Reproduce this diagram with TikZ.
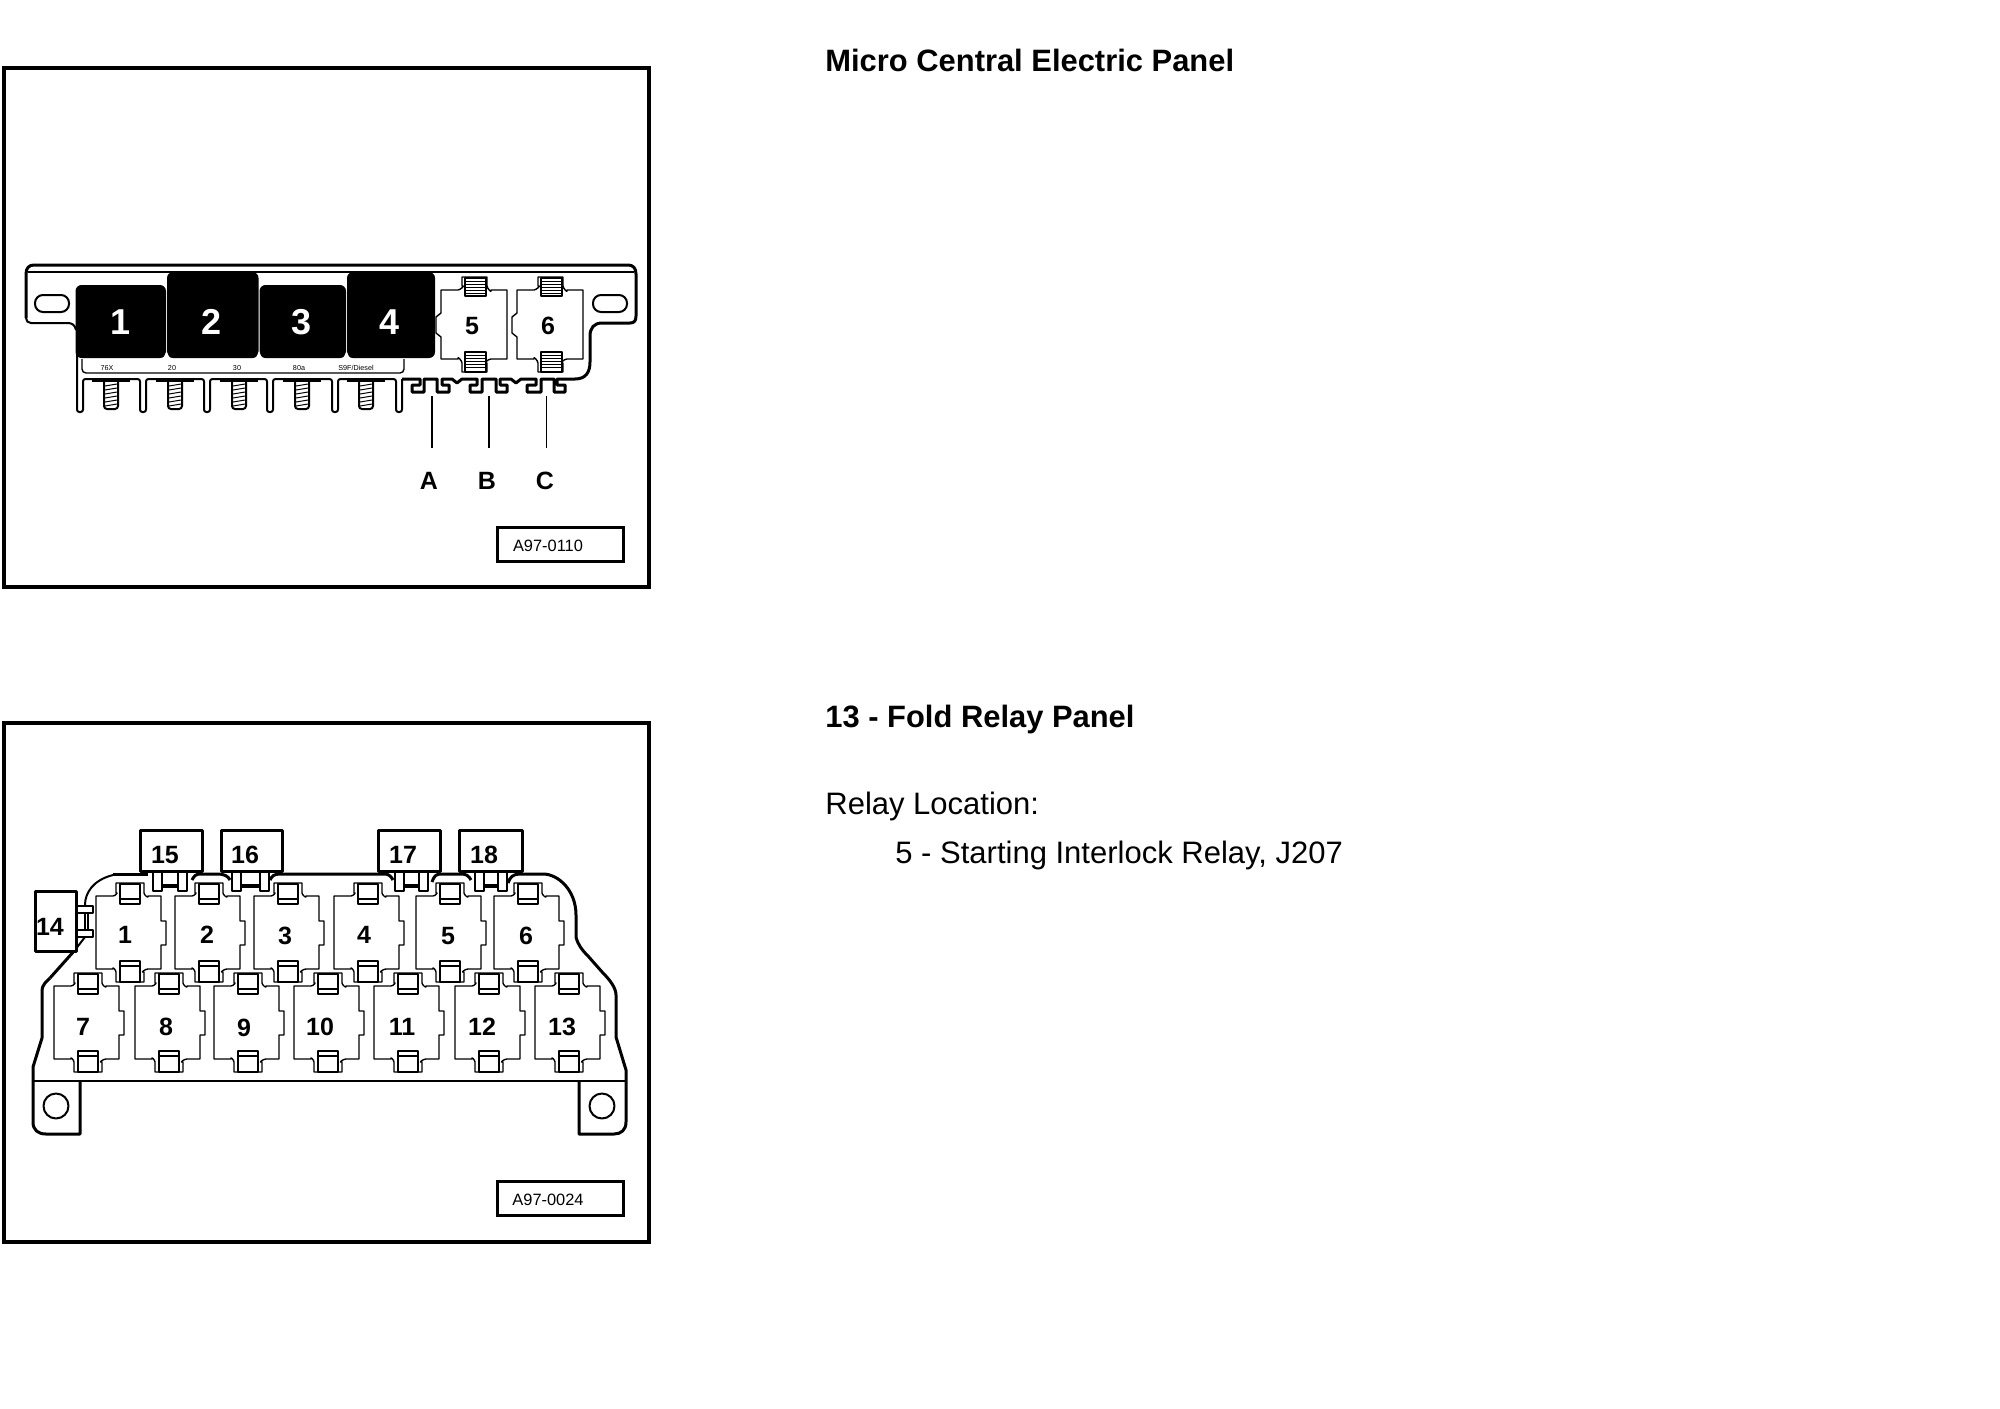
\documentclass[tikz,border=0pt]{standalone}
\usepackage{fontspec}
\setmainfont{Liberation Sans}
\usetikzlibrary{calc}
\tikzset{
 frameline/.style={draw=black,line width=2pt},
 heavy/.style={draw=black,line width=1.5pt,line join=round},
 medium/.style={draw=black,line width=1pt,line join=round},
 thin1/.style={draw=black,line width=0.7pt,line join=round},
 hair/.style={draw=black,line width=0.5pt},
 tagbox/.style={draw=black,line width=1.5pt,fill=white,minimum width=63pt,minimum height=17pt,inner sep=0pt,anchor=north west},
 tagtext/.style={font=\fontsize{8.2}{8}\selectfont,inner sep=0pt},
 head/.style={font=\bfseries\fontsize{15.45}{16}\selectfont,inner sep=0pt,anchor=base west},
 body/.style={font=\fontsize{15.5}{16}\selectfont,inner sep=0pt,anchor=base west},
 bignum/.style={font=\bfseries\fontsize{18}{18}\selectfont,text=white,inner sep=0pt},
 num/.style={font=\bfseries\fontsize{12.5}{12.5}\selectfont,inner sep=0pt},
 tiny1/.style={font=\fontsize{3.6}{4}\selectfont,inner sep=0pt},
 blackbox/.style={fill=black,rounded corners=3pt},
}
% relay socket: #1 left, #2 top, #3 number, #4 number x offset, #5 number y
\newcommand{\relaysock}[5]{%
 \draw[thin1,fill=white] (#1,#2) -- ++(17,0) .. controls +(2,0) and +(3,-1) .. ++(3,-3) -- ++(0,-10) -- ++(28,0) -- ++(0,10) .. controls +(0,2) and +(1,3) .. ++(4,3) -- ++(13,0) -- ++(0,25) -- ++(5,0) -- ++(0,24) -- ++(-5,0) -- ++(0,24) -- ++(-13,0) .. controls +(-3,0) and +(-4,1) .. ++(-4,3) -- ++(0,10) -- ++(-28,0) -- ++(0,-10) .. controls +(0,-2) and +(-1,-3) .. ++(-3,-3) -- ++(-17,0) -- cycle;
 \draw[medium] ($(#1,#2)+(24,-12)$) rectangle ++(20,20);
 \draw[medium] ($(#1,#2)+(24,3)$) -- ++(20,0);
 \draw[medium] ($(#1,#2)+(24,65)$) rectangle ++(20,21);
 \draw[medium] ($(#1,#2)+(24,70)$) -- ++(20,0);
 \node[num] (rs#3) at ($(#1,0)+(#4,#5)$) {#3};
}
% striped tab: #1 left, #2 top, #3 height
\newcommand{\stripetab}[3]{%
 \draw[medium] ($(#1,#2)+(24,0)$) rectangle ++(21,#3);
 \foreach \sy in {3,6,...,15}{\draw[hair] ($(#1,#2)+(24,\sy)$) -- ++(21,0);}
}
% fuse holder: #1 left, #2 right, #3 number, #4 number x
\newcommand{\holder}[4]{%
 \draw[thin1,fill=white] (#1,290) -- ++(17,0) .. controls +(2,0) and +(4,-1) .. ++(4,-4) -- ++(0,-9) -- ++(25,0) -- ++(0,9) .. controls +(0,2) and +(1,4) .. ++(4,4) -- (#2,290) -- (#2,359) -- ($(#1,359)+(50,0)$) .. controls +(-3,0) and +(-4,1) .. ++(-4,4) -- ++(0,9) -- ++(-25,0) -- ++(0,-9) .. controls +(0,-2) and +(-1,-4) .. ++(-4,-4) -- (#1,359) -- (#1,337) -- ++(-5,-4) -- ++(0,-16) -- ++(5,-4) -- cycle;
 \stripetab{#1}{278}{18}
 \stripetab{#1}{352}{20}
 \node[num] (hd#3) at (#4,326) {#3};
}
% screw under the fuse block
\newcommand{\screw}[1]{%
 \draw[medium,rounded corners=1.5pt,fill=white] ($(#1,381)+(-7,0)$) -- ++(0,28) -- ++(14,0) -- ++(0,-28);
 \foreach \sy in {385,389,393,397,401,405}{\draw[hair] ($(#1,\sy)+(-6,1)$) -- ($(#1,\sy)+(6,-1)$);}
 \draw[medium] ($(#1,381)+(-19,0)$) -- ++(38,0);
}
% connector block pins: #1 first pin x, #2 second pin x
\newcommand{\pins}[2]{%
 \draw[thin1] (#1,885) -- (#2,885);
 \draw[thin1] (#1,887) -- (#2,887);
 \draw[medium,fill=white] (#1,872) -- ++(0,19) -- ++(9,0) -- ++(0,-19);
 \draw[medium,fill=white] (#2,872) -- ++(0,19) -- ++(9,0) -- ++(0,-19);
}
\begin{document}
\begin{tikzpicture}[x=0.5pt,y=-0.5pt]
\useasboundingbox (0,0) rectangle (2000,1408);
% ---------- frames
\draw[frameline] (4,68) rectangle (649,587);
\draw[frameline] (4,723) rectangle (649,1242);
% ---------- texts
\node[head] (title1) at (825,71.5) {Micro Central Electric Panel};
\node[head] (title2) at (825,727) {13 - Fold Relay Panel};
\node[body] (reloc) at (825,814) {Relay Location:};
\node[body] (relay5) at (895,863.5) {5 - Starting Interlock Relay, J207};
% ---------- top panel outline
\draw[heavy] (26,318) -- (26,274) .. controls (26,268) and (29,265) .. (34,265) -- (628,265) .. controls (633,265) and (636,268) .. (636,274) -- (636,316) .. controls (636,321) and (634,323) .. (630,323) -- (602,323) .. controls (594,323) and (590,328) .. (590,336) -- (590,362) .. controls (590,372) and (586,379) .. (575,379);
\draw[thin1] (28,272) -- (634,272);
\draw[medium] (26,318) .. controls (26,321) and (28,323) .. (31,323) -- (68,323) .. controls (72,323) and (75,325) .. (76,330);
\draw[medium,rounded corners=4pt] (35,295) rectangle (69,312);
\draw[medium,rounded corners=4pt] (593,295) rectangle (627,312);
% comb
\draw[medium,rounded corners=1.2pt] (77,352) -- (77,412) -- (83,412) -- (83,379) -- (140,379) -- (140,412) -- (146,412) -- (146,379) -- (204,379) -- (204,412) -- (210,412) -- (210,379) -- (267,379) -- (267,412) -- (273,412) -- (273,379) -- (332,379) -- (332,412) -- (338,412) -- (338,379) -- (396,379) -- (396,412) -- (402,412) -- (402,379);
\draw[heavy] (402,379) -- (420,379) -- (420,385) -- (412,385) -- (412,392) -- (424,392) -- (424,379) -- (437,379) -- (437,392) -- (449,392) -- (449,385) -- (442,385) -- (442,379) -- (452,379) -- (457,383) -- (462,379) -- (477,379) -- (477,385) -- (470,385) -- (470,392) -- (482,392) -- (482,379) -- (496,379) -- (496,392) -- (507,392) -- (507,385) -- (500,385) -- (500,379) -- (511,379) -- (516,383) -- (521,379) -- (536,379) -- (536,385) -- (527,385) -- (527,392) -- (541,392) -- (541,379) -- (554,379) -- (554,392) -- (565,392) -- (565,385) -- (557,385) -- (557,379) -- (575,379);
\foreach \cx in {111,175,239,302,366}{\screw{\cx}}
% black fuse blocks
\fill[blackbox] (75.5,285) rectangle (166,358);
\fill[blackbox] (167,272) rectangle (258.5,358);
\fill[blackbox] (259.5,285) rectangle (346,358);
\fill[blackbox] (347,272) rectangle (435,358);
\fill[white] (166.5,351) -- (163.5,358) -- (169.5,358) -- cycle;
\fill[white] (259,351) -- (256,358) -- (262,358) -- cycle;
\fill[white] (346.5,351) -- (343.5,358) -- (349.5,358) -- cycle;
\node[bignum] (f1) at (121,322) {1};
\node[bignum] (f2) at (212,322) {2};
\node[bignum] (f3) at (302,322) {3};
\node[bignum] (f4) at (390,322) {4};
% label strip
\draw[thin1,rounded corners=2pt] (82,359) -- (82,373) -- (404,373) -- (404,359);
\node[tiny1] (l1) at (107,368) {76X};
\node[tiny1] (l2) at (172,368) {20};
\node[tiny1] (l3) at (237,368) {30};
\node[tiny1] (l4) at (299,368) {80a};
\node[tiny1] (l5) at (356,368) {S9F/Diesel};
% holders
\holder{441}{507}{5}{472}
\holder{517}{583}{6}{548}
% leaders
\coordinate (ta) at (432,396); \coordinate (ea) at (432,448);
\coordinate (tb) at (489,396); \coordinate (eb) at (489,448);
\coordinate (tc) at (546,396); \coordinate (ec) at (546,448);
\draw[line width=1.2pt] (ta) -- (ea);
\draw[line width=0.9pt] (tb) -- (eb);
\draw[line width=0.5pt] (tc) -- (ec);
\node[num] (la) at (429,481) {A};
\node[num] (lb) at (487,481) {B};
\node[num] (lc) at (545,481) {C};
\node[tagbox] (tag1) at (496,526) {};
\node[tagtext] (tag1t) at (548,546) {A97-0110};
% ---------- bottom panel outline
\draw[heavy] (50,978) -- (75,950);
\draw[medium] (75,950) -- (85,937);
\draw[heavy] (33,1081) -- (33,1067) -- (42,1038) -- (42,992) .. controls (42,988) and (43,985) .. (45,983) -- (50,978);
\draw[medium] (85,905) .. controls (85,893) and (93,880) .. (113,875);
\draw[heavy] (113,874) -- (148,874);
\draw[heavy] (192,880) .. controls (194,876) and (196,874) .. (200,874) -- (218,874) .. controls (224,874) and (228,876) .. (230,880);
\draw[heavy] (270,880) .. controls (272,876) and (274,874) .. (280,874) -- (385,874) .. controls (388,874) and (391,876) .. (393,880);
\draw[heavy] (432,882) .. controls (434,876) and (436,874) .. (441,874) -- (462,874) .. controls (466,874) and (469,876) .. (471,880);
\draw[heavy] (508,883) .. controls (510,877) and (513,874) .. (520,874) -- (543,874) .. controls (558,874) and (576,890) .. (576,915) -- (576,937) .. controls (578,945) and (582,950) .. (588,956) -- (603,973) .. controls (610,980) and (616,988) .. (616,995) -- (616,1037) -- (626,1070) -- (626,1122) .. controls (626,1130) and (621,1134) .. (614,1134) -- (579,1134) -- (579,1081);
\draw[medium] (33,1081) -- (626,1081);
\draw[heavy] (33,1081) -- (33,1122) .. controls (33,1130) and (38,1134) .. (46,1134) -- (80,1134) -- (80,1081);
\draw[medium] (56,1106) circle[radius=12.5];
\draw[medium] (602,1106) circle[radius=12.5];
% sockets
\relaysock{96}{896}{1}{29}{935}
\relaysock{175}{896}{2}{32}{935}
\relaysock{254}{896}{3}{31}{936}
\relaysock{334}{896}{4}{30}{935}
\relaysock{416}{896}{5}{32}{936}
\relaysock{494}{896}{6}{32}{936}
\relaysock{54}{986}{7}{29}{1027}
\relaysock{135}{986}{8}{31}{1027}
\relaysock{214}{986}{9}{30}{1028}
\relaysock{294}{986}{10}{26}{1027}
\relaysock{374}{986}{11}{28}{1027}
\relaysock{455}{986}{12}{27}{1027}
\relaysock{535}{986}{13}{27}{1027}
% connector blocks
\pins{153}{178}
\pins{232}{260}
\pins{395}{419}
\pins{475}{498}
\draw[heavy,fill=white] (140,830) rectangle (202,871);
\draw[heavy,fill=white] (221,830) rectangle (282,871);
\draw[heavy,fill=white] (378,830) rectangle (440,871);
\draw[heavy,fill=white] (459,830) rectangle (522,871);
\node[num] (b15) at (165,855) {15};
\node[num] (b16) at (245,855) {16};
\node[num] (b17) at (403,855) {17};
\node[num] (b18) at (484,855) {18};
\draw[thin1] (85,913) -- (85,930);
\draw[thin1] (88,913) -- (88,930);
\draw[medium,fill=white] (76,906) -- (93,906) -- (93,913) -- (76,913);
\draw[medium,fill=white] (76,930) -- (93,930) -- (93,937) -- (76,937);
\draw[heavy,fill=white] (35,891) rectangle (76,951);
\node[num] (b14) at (50,927) {14};
\node[tagbox] (tag2) at (496,1180) {};
\node[tagtext] (tag2t) at (548,1200) {A97-0024};
\end{tikzpicture}
\end{document}
